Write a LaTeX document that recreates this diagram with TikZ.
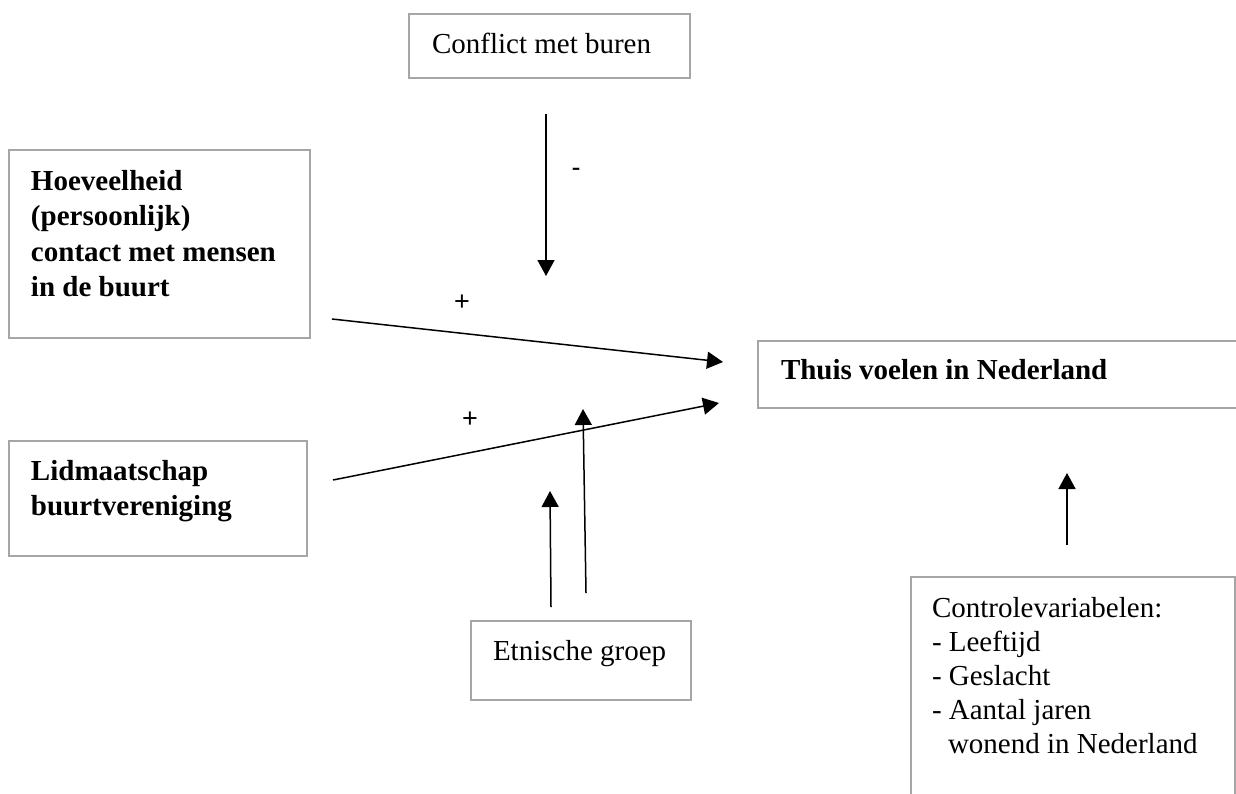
\documentclass[tikz,border=0pt]{standalone}
\usepackage{fontspec}
\setmainfont{Liberation Serif}
\newfontfamily\signfont{Liberation Sans}
\usetikzlibrary{arrows.meta}
\definecolor{boxgray}{RGB}{166,166,166}
\newcommand{\mybox}[6]{\begin{minipage}[t][#2][t]{#1}\raggedright\leftskip=#3\relax\fontsize{29}{#5}\selectfont\rule{0pt}{#4}#6\end{minipage}}
\tikzset{
  box/.style={draw=boxgray, line width=2.5pt, inner sep=0pt, outer sep=0pt, anchor=north west, fill=white},
  arr/.style={draw=black, line width=1.5pt, -{Triangle[length=16pt,width=17pt]}},
  sign/.style={font=\signfont\fontsize{27}{27}\selectfont, inner sep=0pt}
}
\begin{document}
\begin{tikzpicture}[x=1pt,y=-1pt]
\useasboundingbox (0,0) rectangle (1236,793);
\fill[white] (0,0) rectangle (1236,793);
\clip (0,0) rectangle (1236,793);
% boxes
\node[box] (conflict) at (409,14) {\mybox{281pt}{64pt}{23pt}{39pt}{34.5pt}{Conflict met buren}};
\node[box, font=\bfseries] (hoev) at (9,150) {\mybox{301pt}{188pt}{22pt}{40pt}{35.5pt}{Hoeveelheid\\(persoonlijk)\\contact met mensen\\in de buurt}};
\node[box, font=\bfseries] (lid) at (9,441) {\mybox{298pt}{115pt}{22pt}{39pt}{35.5pt}{Lidmaatschap\\buurtvereniging}};
\node[box, font=\bfseries] (thuis) at (758,341) {\mybox{520pt}{67pt}{23pt}{38pt}{35pt}{Thuis voelen in Nederland}};
\node[box] (etn) at (471,621) {\mybox{220pt}{79pt}{22pt}{39pt}{34.5pt}{Etnische groep}};
\node[box] (ctrl) at (911,577) {\mybox{324pt}{260pt}{21pt}{40pt}{34.2pt}{Controlevariabelen:\\- Leeftijd\\- Geslacht\\- Aantal jaren\\\hspace*{16pt}wonend in Nederland}};
% connector end points
\coordinate (c1s) at (546,114); \coordinate (c1e) at (546,276);
\coordinate (c2s) at (332,319); \coordinate (c2e) at (723,362);
\coordinate (c3s) at (333,480); \coordinate (c3e) at (719,403);
\coordinate (c4s) at (551,607); \coordinate (c4e) at (550,491);
\coordinate (c5s) at (586,593); \coordinate (c5e) at (583,409);
\coordinate (c6s) at (1067,545); \coordinate (c6e) at (1067,473);
% arrows
\draw[arr] (c1s) -- (c1e);
\draw[arr] (c2s) -- (c2e);
\draw[arr] (c3s) -- (c3e);
\draw[arr] (c4s) -- (c4e);
\draw[arr] (c5s) -- (c5e);
\draw[arr] (c6s) -- (c6e);
% signs
\node[sign] (minus) at (576,172) {-};
\node[sign] (plus1) at (462,303) {+};
\node[sign] (plus2) at (470,420) {+};
\end{tikzpicture}
\end{document}
